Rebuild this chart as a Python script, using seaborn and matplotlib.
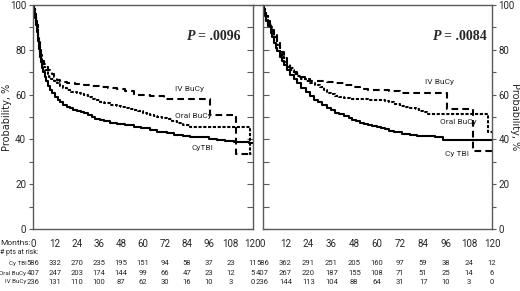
import numpy as np
import pandas as pd
import matplotlib
matplotlib.use("Agg")
import matplotlib.pyplot as plt
import matplotlib.transforms as mtrans
from matplotlib.lines import Line2D
import seaborn as sns

sns.set_theme(style="white")
NARROW = ['Liberation Sans Narrow', 'Roboto', 'DejaVu Sans']
plt.rcParams['font.family'] = NARROW

# ---------------- data ----------------
groups = ["Cy TBI", "Oral BuCy", "IV BuCy"]
tick_months = [0, 12, 24, 36, 48, 60, 72, 84, 96, 108, 120]

# Left panel
L_cytbi_t = [0, 0.5, 1, 1.5, 2, 2.5, 2.9, 3.5, 4, 4.5, 5, 5.6, 6.3, 7, 8, 9.3, 10.5, 12, 13.5, 15, 16.5, 18.5, 20, 22, 24, 26, 27.6, 30, 32, 34, 36.7, 39, 42, 44, 46, 50, 55, 59, 64, 68, 73, 77, 82, 86, 91.5, 96, 100.6, 105, 109.7, 118, 120]
L_cytbi_v = [100, 97, 94, 91, 88, 86, 84, 80.5, 77, 74.5, 72, 70, 68, 66, 64, 62, 60.5, 59, 57.8, 56.5, 55.5, 54.6, 53.8, 53.3, 52.8, 52.2, 51.6, 50.8, 50, 49.3, 48.7, 48.1, 47.5, 47.2, 46.9, 46.3, 45.7, 45, 44.2, 43.5, 42.7, 42.1, 41.5, 41.2, 40.9, 40.3, 39.7, 39.4, 39.0, 38.5, 38.5]
L_oral_t = [0, 0.5, 1, 1.5, 2, 2.5, 3, 3.5, 4, 4.5, 5, 5.6, 6.5, 8, 9, 10, 11.5, 13, 14.5, 16.5, 18.5, 21, 24, 26, 27.6, 30, 32, 34, 36.7, 39, 42, 44, 46, 48, 50, 52.5, 55, 57.5, 60, 62, 64, 66, 68, 70.5, 73, 76, 78.7, 82, 86, 118.5, 120]
L_oral_v = [100, 98, 96, 93.5, 91, 88.5, 86, 83, 80, 77.5, 75, 72.5, 71, 69, 68, 67, 66, 65, 63.8, 62.8, 62, 61.2, 60.5, 60.1, 59.8, 58.8, 58, 57.4, 56.8, 56.1, 55.5, 55.2, 55, 54.5, 54, 53.6, 53.2, 52.6, 52, 51.4, 50.9, 50.4, 50, 49.5, 49.1, 48.3, 47.5, 46.6, 45.7, 33.5, 33.5]
L_iv_t = [0, 0.5, 1, 1.5, 2, 2.5, 3, 3.8, 4.5, 5.2, 6, 7, 8, 9.3, 10.5, 11.7, 13, 15, 18.5, 23, 27.6, 32, 36.7, 41, 45.9, 50, 55, 64, 71.4, 96.6, 110.7, 118]
L_iv_v = [100, 98, 96, 93.5, 91, 88, 84, 79, 76.5, 75, 73.5, 72.2, 71.2, 70.2, 69, 67.8, 66.5, 65.8, 65.3, 64.8, 64.3, 63.8, 63.3, 62.8, 62.4, 61.5, 59.8, 59.5, 58, 51, 33.5, 33.5]

# Right panel
R_cytbi_t = [0, 0.5, 1, 1.5, 2, 3, 4.2, 5, 6, 7, 7.7, 9, 10, 11.5, 12.9, 14.5, 16.4, 18, 20, 22.5, 25, 27, 29, 31, 33.7, 36, 38, 40, 42.4, 45, 47, 49, 51, 53, 55, 57.5, 59.8, 62, 64, 66, 68.5, 73, 77.2, 81, 86, 90, 94.5, 120]
R_cytbi_v = [100, 98.5, 97, 95, 93, 90.5, 87.7, 85.5, 83, 81, 79.5, 77, 75, 73, 71, 68.8, 66.8, 65, 63, 61.2, 59.3, 57.8, 56.5, 55.2, 54, 53, 52, 51.2, 50.4, 49.5, 48.8, 48.1, 47.4, 46.9, 46.4, 45.9, 45.4, 44.9, 44.5, 43.9, 43.2, 42.6, 42.1, 41.7, 41.4, 41.1, 39.8, 39.7]
R_oral_t = [0, 0.5, 1, 1.5, 2, 3, 4, 5, 6, 7.7, 9, 10, 11.5, 12.9, 14.5, 16.4, 18, 20, 22.5, 25, 27.5, 30, 32, 33.7, 36, 38, 40, 42.4, 46, 51, 55, 60, 64, 66, 68.5, 72, 75, 77.2, 80, 82, 84, 86, 118, 120]
R_oral_v = [100, 99, 98, 96.5, 95, 92, 90, 88, 85.5, 82, 79, 77, 74.7, 72.5, 70.8, 69.2, 68.1, 67, 66, 65, 64.3, 63.6, 62.2, 60.9, 60.1, 59.5, 58.9, 58.4, 58.1, 57.9, 57.7, 57.5, 57, 56.5, 56, 55.1, 54.6, 54.2, 53.5, 52.8, 52.3, 51.5, 43.5, 43.5]
R_iv_t = [0, 0.5, 1, 1.5, 2, 3, 4, 5, 6, 7.7, 9, 10, 11.5, 12.9, 14.5, 16.4, 18, 19.8, 22, 25, 29, 33.7, 38, 42.4, 47.6, 51, 55, 59.8, 66, 72, 96.3, 110, 120]
R_iv_v = [100, 99, 98, 96.5, 95, 93, 91, 89, 87, 84, 81, 79, 76.5, 74, 72, 70.3, 69, 67.7, 67, 66.2, 66, 65.8, 65, 64.3, 63.6, 62.5, 62.2, 61.9, 61.5, 60.8, 53.6, 34.6, 34.6]

L_risk_cytbi = [586, 332, 270, 235, 195, 151, 94, 58, 37, 23, 11]
L_risk_oral = [407, 247, 203, 174, 144, 99, 66, 47, 23, 12, 5]
L_risk_iv = [236, 131, 110, 100, 87, 62, 30, 16, 10, 3, 0]
R_risk_cytbi = [586, 362, 291, 251, 205, 160, 97, 59, 38, 24, 12]
R_risk_oral = [407, 267, 220, 187, 155, 108, 71, 51, 25, 14, 6]
R_risk_iv = [236, 144, 113, 104, 88, 64, 31, 17, 10, 3, 0]

p_left = ".0096"
p_right = ".0084"


def frame(tc, vc, to, vo, ti, vi):
    parts = []
    for g, t, v in zip(groups, [tc, to, ti], [vc, vo, vi]):
        parts.append(pd.DataFrame({"month": t, "prob": v, "group": g}))
    return pd.concat(parts, ignore_index=True)


dfL = frame(L_cytbi_t, L_cytbi_v, L_oral_t, L_oral_v, L_iv_t, L_iv_v)
dfR = frame(R_cytbi_t, R_cytbi_v, R_oral_t, R_oral_v, R_iv_t, R_iv_v)

W, H = 520, 291
fig = plt.figure(figsize=(W / 100, H / 100), dpi=100)
fig.patch.set_facecolor("white")

def fx(px):
    return px / W

def fy(py):
    return 1 - py / H

axL = fig.add_axes([fx(33), fy(229), fx(252.7 - 33), (229 - 5) / H])
axR = fig.add_axes([fx(262.5), fy(229), fx(492 - 262.5), (229 - 5) / H])

dashes = {"Cy TBI": "", "Oral BuCy": (1.5, 0.8), "IV BuCy": (3.2, 2.0)}
spine_col = "#5a5a5a"
tick_fs = 7

for ax, df in [(axL, dfL), (axR, dfR)]:
    sns.lineplot(data=df, x="month", y="prob", style="group", dashes=dashes,
                 color="black", linewidth=1.5, estimator=None, sort=False,
                 drawstyle="steps-post", legend=False, ax=ax)
    ax.set_xlim(0, 120)
    ax.set_ylim(0, 100)
    ax.set_xlabel("")
    ax.set_ylabel("")
    ax.set_facecolor("white")
    for s in ax.spines.values():
        s.set_color(spine_col)
        s.set_linewidth(1.0)
    ax.set_xticks(tick_months)
    ax.set_xticklabels([str(m) for m in tick_months], fontsize=tick_fs)
    ax.tick_params(axis="x", direction="out", length=4, width=0.8, color=spine_col, pad=3)
    ax.set_yticks(np.arange(0, 101, 10))

# Left panel y axis
axL.set_yticklabels([str(v) if v % 20 == 0 else "" for v in range(0, 101, 10)], fontsize=tick_fs)
axL.tick_params(axis="y", which="both", left=True, right=True, direction="out",
                length=3, width=0.8, color=spine_col, pad=2)
for t in axL.yaxis.get_major_ticks():
    t.tick2line.set_marker(matplotlib.lines.TICKLEFT)
    t.tick2line.set_markersize(4)

# Right panel y axis
axR.yaxis.tick_right()
axR.set_yticklabels([str(v) if v % 20 == 0 else "" for v in range(0, 101, 10)], fontsize=tick_fs)
axR.tick_params(axis="y", which="both", left=True, right=True, direction="out",
                length=3, width=0.8, color=spine_col, pad=1.5)
for t in axR.yaxis.get_major_ticks():
    t.tick1line.set_marker(matplotlib.lines.TICKRIGHT)
    t.tick1line.set_markersize(4)

# join top borders
fig.add_artist(Line2D([fx(252.7), fx(262.5)], [fy(5), fy(5)], color=spine_col, lw=1.0))

# y labels
fig.text(fx(7), fy(117), "Probability, %", rotation=90, ha="center", va="center",
         fontsize=7, family="DejaVu Sans", color="#222222")
fig.text(fx(515), fy(117), "Probability, %", rotation=-90, ha="center", va="center",
         fontsize=7, family="DejaVu Sans", color="#222222")

# P values
for p, xpx in [(p_left, 187), (p_right, 433)]:
    fig.text(fx(xpx), fy(37), "P", fontsize=10, family="Liberation Serif",
             fontweight="bold", fontstyle="italic", va="center", ha="left")
    fig.text(fx(xpx + 11), fy(37), "= " + p, fontsize=10, family="Liberation Serif",
             fontweight="bold", va="center", ha="left")

# curve labels
lab_fs = 6
fig.text(fx(175), fy(89), "IV BuCy", fontsize=lab_fs, va="center")
fig.text(fx(175), fy(116), "Oral BuCy", fontsize=lab_fs, va="center")
fig.text(fx(192), fy(148), "CyTBI", fontsize=lab_fs, va="center")
fig.text(fx(425), fy(82), "IV BuCy", fontsize=lab_fs, va="center")
fig.text(fx(440), fy(122), "Oral BuCy", fontsize=lab_fs, va="center")
fig.text(fx(445), fy(154), "Cy TBI", fontsize=lab_fs, va="center")

# Months label and risk table
fig.text(fx(0), fy(243), "Months:", fontsize=6, va="center", ha="left")
fig.text(fx(0), fy(252), "# pts at risk:", fontsize=5, va="center", ha="left")
row_y = [263, 273, 282]
for name, yy in zip(groups, row_y):
    fig.text(fx(26.3), fy(yy), name, fontsize=4.5, va="center", ha="right")

for ax, rows in [(axL, [L_risk_cytbi, L_risk_oral, L_risk_iv]),
                 (axR, [R_risk_cytbi, R_risk_oral, R_risk_iv])]:
    tr = mtrans.blended_transform_factory(ax.transData, fig.transFigure)
    for vals, yy in zip(rows, row_y):
        for m, v in zip(tick_months, vals):
            ax.text(m, fy(yy), str(v), transform=tr, fontsize=5.5, ha="center",
                    va="center", clip_on=False)

fig.savefig("out.png", dpi=100, facecolor="white")
